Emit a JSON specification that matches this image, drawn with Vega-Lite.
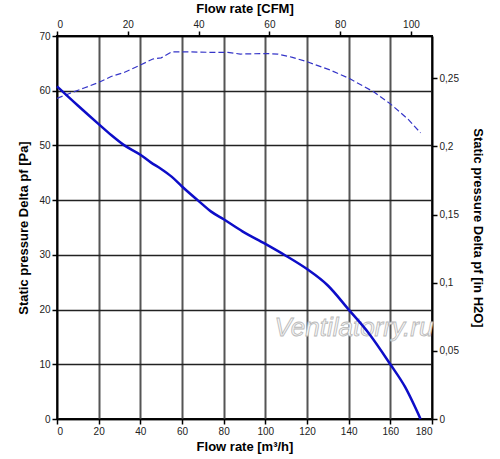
{
  "$schema": "https://vega.github.io/schema/vega-lite/v6.json",
  "width": 375,
  "height": 383,
  "autosize": {"type": "none"},
  "padding": {"left": 57, "top": 36, "right": 68, "bottom": 40},
  "background": "white",
  "config": {
    "font": "Liberation Sans",
    "view": {"stroke": "black", "strokeWidth": 2},
    "axis": {
      "labelFont": "Liberation Sans",
      "labelFontSize": 10,
      "labelColor": "#222",
      "titleFont": "Liberation Sans",
      "titleFontSize": 13,
      "titleFontWeight": "bold",
      "titleColor": "black",
      "tickColor": "black",
      "tickSize": 5,
      "tickWidth": 1.5,
      "domainColor": "black",
      "domainWidth": 1.5
    }
  },
  "datasets": {
    "pressure": [
      {"q": 0, "p": 60.8},
      {"q": 10, "p": 57.3},
      {"q": 20, "p": 53.9},
      {"q": 26, "p": 51.9},
      {"q": 32, "p": 50.1},
      {"q": 40, "p": 48.3},
      {"q": 45, "p": 46.9},
      {"q": 50, "p": 45.7},
      {"q": 55, "p": 44.3},
      {"q": 60, "p": 42.5},
      {"q": 67.5, "p": 40.0},
      {"q": 74, "p": 37.9},
      {"q": 80, "p": 36.5},
      {"q": 89, "p": 34.3},
      {"q": 100, "p": 32.0},
      {"q": 110, "p": 29.8},
      {"q": 120, "p": 27.4},
      {"q": 130, "p": 24.4},
      {"q": 140, "p": 20.0},
      {"q": 150, "p": 15.5},
      {"q": 160, "p": 10.0},
      {"q": 167, "p": 5.9},
      {"q": 174.5, "p": 0}
    ],
    "upper": [
      {"q": 0, "p": 58.6},
      {"q": 6, "p": 59.5},
      {"q": 13, "p": 60.5},
      {"q": 20, "p": 61.5},
      {"q": 26, "p": 62.6},
      {"q": 32, "p": 63.3},
      {"q": 40, "p": 64.7},
      {"q": 46, "p": 65.8},
      {"q": 50, "p": 66.0},
      {"q": 55, "p": 67.1},
      {"q": 64, "p": 67.1},
      {"q": 75, "p": 67.0},
      {"q": 82, "p": 67.0},
      {"q": 88, "p": 66.7},
      {"q": 100, "p": 66.8},
      {"q": 106, "p": 66.7},
      {"q": 113, "p": 66.1},
      {"q": 120, "p": 65.3},
      {"q": 131, "p": 63.8},
      {"q": 140, "p": 62.3},
      {"q": 152, "p": 59.8},
      {"q": 160, "p": 57.6},
      {"q": 168.5, "p": 54.8},
      {"q": 174.5, "p": 52.3}
    ],
    "imperial": [
      {"cfm": 0, "inh2o": 0},
      {"cfm": 100, "inh2o": 0.25}
    ],
    "mark": [
      {"q": 142.5, "p": 16.6, "label": "Ventilatorry.ru"}
    ]
  },
  "layer": [
    {
      "encoding": {
        "x": {
          "field": "q",
          "type": "quantitative",
          "scale": {"domain": [0, 180], "nice": false},
          "axis": {
            "orient": "bottom",
            "values": [0, 20, 40, 60, 80, 100, 120, 140, 160, 180],
            "title": "Flow rate [m³/h]",
            "titlePadding": 4,
            "grid": true,
            "gridColor": "#555",
            "gridWidth": 2
          }
        },
        "y": {
          "field": "p",
          "type": "quantitative",
          "scale": {"domain": [0, 70], "nice": false},
          "axis": {
            "orient": "left",
            "values": [0, 10, 20, 30, 40, 50, 60, 70],
            "title": "Static pressure Delta pf [Pa]",
            "titlePadding": 8,
            "grid": true,
            "gridColor": "#222",
            "gridWidth": 1.5
          }
        }
      },
      "layer": [
        {
          "data": {"name": "mark"},
          "mark": {
            "type": "text",
            "font": "Liberation Sans",
            "fontSize": 26,
            "fontStyle": "italic",
            "fill": "#f6f6f6",
            "stroke": "#b8b8b8",
            "strokeWidth": 0.8
          },
          "encoding": {"text": {"field": "label"}}
        },
        {
          "data": {"name": "upper"},
          "mark": {
            "type": "line",
            "color": "#3535c8",
            "strokeWidth": 1.2,
            "strokeDash": [6, 3]
          }
        },
        {
          "data": {"name": "pressure"},
          "mark": {
            "type": "line",
            "color": "#0d0dc8",
            "strokeWidth": 2.5,
            "interpolate": "monotone"
          }
        }
      ]
    },
    {
      "data": {"name": "imperial"},
      "mark": {"type": "point", "opacity": 0},
      "encoding": {
        "x": {
          "field": "cfm",
          "type": "quantitative",
          "scale": {"domain": [0, 105.944], "nice": false},
          "axis": {
            "orient": "top",
            "values": [0, 20, 40, 60, 80, 100],
            "title": "Flow rate [CFM]",
            "titlePadding": 4,
            "grid": false
          }
        },
        "y": {
          "field": "inh2o",
          "type": "quantitative",
          "scale": {"domain": [0, 0.28102], "nice": false},
          "axis": {
            "orient": "right",
            "values": [0, 0.05, 0.1, 0.15, 0.2, 0.25],
            "labelExpr": "replace(format(datum.value, '~g'), '.', ',')",
            "title": "Static pressure Delta pf [in H2O]",
            "titlePadding": 12,
            "grid": false
          }
        }
      }
    }
  ],
  "resolve": {"scale": {"x": "independent", "y": "independent"}}
}
